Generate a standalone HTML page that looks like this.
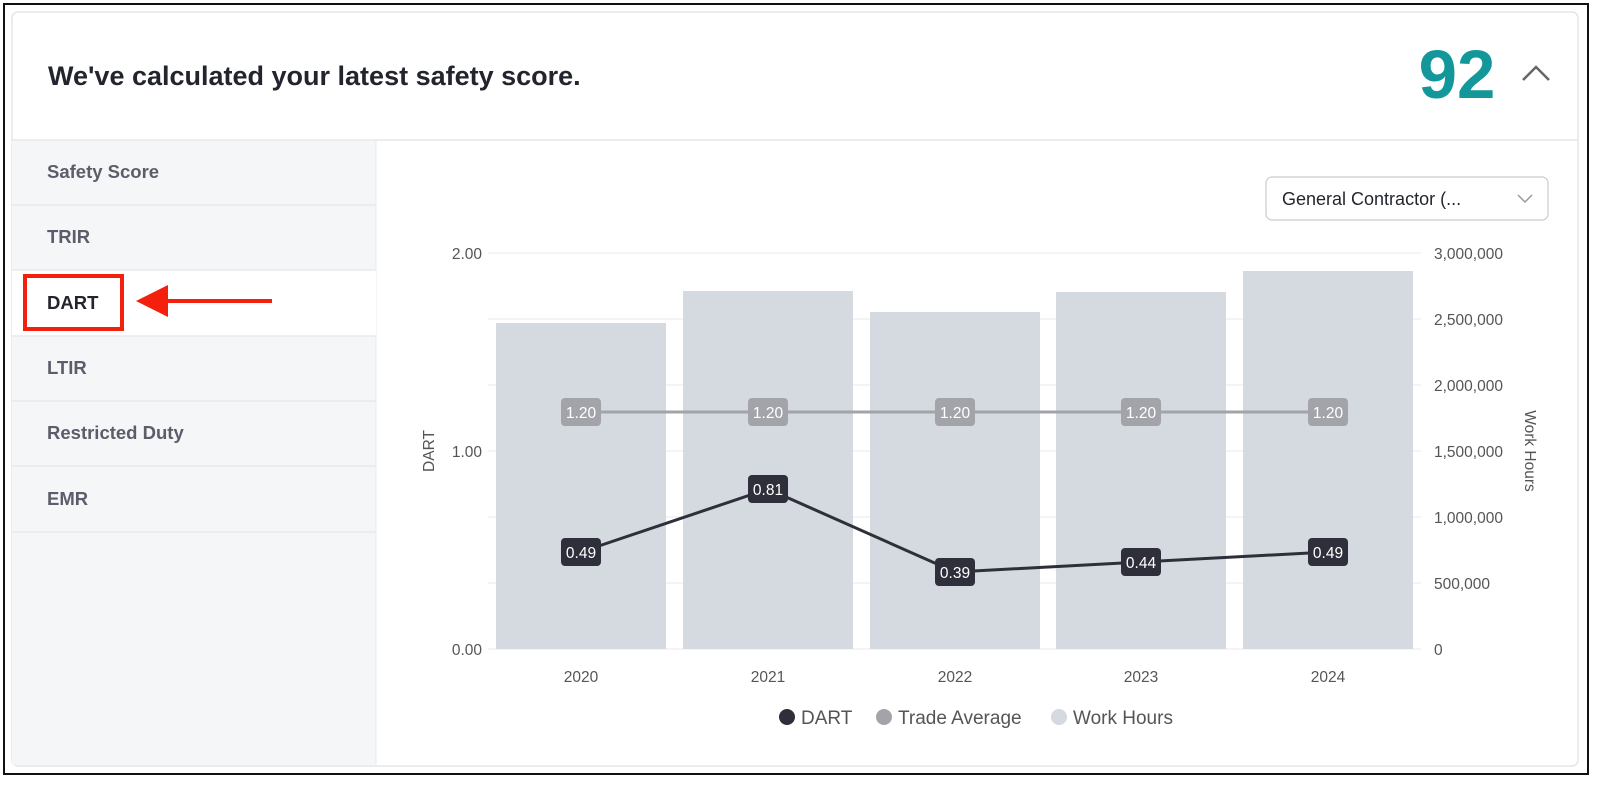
<!DOCTYPE html>
<html><head><style>
body{margin:0;width:1600px;height:782px;background:#fff;overflow:hidden;font-family:"Liberation Sans",Arial,sans-serif}
</style></head><body>
<svg width="1600" height="782" xmlns="http://www.w3.org/2000/svg" font-family="Liberation Sans, Arial, sans-serif">
<rect x="4" y="4" width="1584" height="770" fill="#fff" stroke="#111" stroke-width="2"/>
<rect x="12" y="12" width="1566" height="754" rx="6" fill="#fff" stroke="#e4e5e8" stroke-width="1.5"/>
<text x="48" y="85" font-size="27" font-weight="bold" fill="#23252e">We've calculated your latest safety score.</text>
<text x="1457" y="98" font-size="69" font-weight="bold" fill="#13979a" text-anchor="middle">92</text>
<polyline points="1523,80 1536,67 1549,80" fill="none" stroke="#666" stroke-width="2.5"/>
<line x1="12" y1="140" x2="1578" y2="140" stroke="#e6e7ea" stroke-width="1.5"/>
<!-- sidebar -->
<rect x="12" y="141" width="364" height="624" fill="#f5f6f8"/>
<line x1="376" y1="141" x2="376" y2="765" stroke="#e8e9ec"/>
<rect x="12" y="270" width="364" height="66" fill="#fff"/>
<g stroke="#e4e5e8" stroke-width="1.2">
<line x1="12" y1="205" x2="376" y2="205"/><line x1="12" y1="270" x2="376" y2="270"/>
<line x1="12" y1="336" x2="376" y2="336"/><line x1="12" y1="401" x2="376" y2="401"/>
<line x1="12" y1="466" x2="376" y2="466"/><line x1="12" y1="532" x2="376" y2="532"/>
</g>
<g font-size="18.5" fill="#5b5e6a" font-weight="bold">
<text x="47" y="178">Safety Score</text>
<text x="47" y="243">TRIR</text>
<text x="47" y="309" fill="#23252e">DART</text>
<text x="47" y="374">LTIR</text>
<text x="47" y="439">Restricted Duty</text>
<text x="47" y="505">EMR</text>
</g>
<rect x="25" y="276" width="97" height="53" fill="none" stroke="#f2200c" stroke-width="4"/>
<line x1="165" y1="301" x2="272" y2="301" stroke="#f2200c" stroke-width="4"/>
<polygon points="136,301 168,285 168,317" fill="#f2200c"/>
<!-- dropdown -->
<rect x="1266" y="177" width="282" height="43" rx="6" fill="#fff" stroke="#c9cbd0" stroke-width="1.2"/>
<text x="1282" y="205" font-size="18" fill="#23252e">General Contractor (...</text>
<polyline points="1518,195 1525,202 1532,195" fill="none" stroke="#999" stroke-width="1.5"/>
<!-- grid -->
<g stroke="#e8e9ec" stroke-width="1">
<line x1="488" y1="253" x2="1421" y2="253"/><line x1="488" y1="319" x2="1421" y2="319"/>
<line x1="488" y1="385" x2="1421" y2="385"/><line x1="488" y1="451" x2="1421" y2="451"/>
<line x1="488" y1="517" x2="1421" y2="517"/><line x1="488" y1="583" x2="1421" y2="583"/>
<line x1="488" y1="649" x2="1421" y2="649"/>
</g>
<g fill="#d5d9e0">
<rect x="496" y="323" width="170" height="326"/>
<rect x="683" y="291" width="170" height="358"/>
<rect x="870" y="312" width="170" height="337"/>
<rect x="1056" y="292" width="170" height="357"/>
<rect x="1243" y="271" width="170" height="378"/>
</g>
<g font-size="15.5" fill="#555">
<text x="482" y="259" text-anchor="end">2.00</text>
<text x="482" y="457" text-anchor="end">1.00</text>
<text x="482" y="655" text-anchor="end">0.00</text>
<text x="1434" y="259">3,000,000</text><text x="1434" y="325">2,500,000</text>
<text x="1434" y="391">2,000,000</text><text x="1434" y="457">1,500,000</text>
<text x="1434" y="523">1,000,000</text><text x="1434" y="589">500,000</text>
<text x="1434" y="655">0</text>
<text x="581" y="682" text-anchor="middle">2020</text><text x="768" y="682" text-anchor="middle">2021</text>
<text x="955" y="682" text-anchor="middle">2022</text><text x="1141" y="682" text-anchor="middle">2023</text>
<text x="1328" y="682" text-anchor="middle">2024</text>
<text transform="translate(434,451) rotate(-90)" text-anchor="middle">DART</text>
<text transform="translate(1525,451) rotate(90)" text-anchor="middle">Work Hours</text>
</g>
<line x1="581" y1="412" x2="1328" y2="412" stroke="#a3a4aa" stroke-width="3"/>
<polyline points="581,552 768,489 955,572 1141,562 1328,552" fill="none" stroke="#2e2f3a" stroke-width="3"/>
<g font-size="15.5" fill="#fff" text-anchor="middle">
<g fill="#a3a4aa"><rect x="561" y="398" width="40" height="28" rx="4"/><rect x="748" y="398" width="40" height="28" rx="4"/><rect x="935" y="398" width="40" height="28" rx="4"/><rect x="1121" y="398" width="40" height="28" rx="4"/><rect x="1308" y="398" width="40" height="28" rx="4"/></g>
<text x="581" y="418">1.20</text><text x="768" y="418">1.20</text><text x="955" y="418">1.20</text><text x="1141" y="418">1.20</text><text x="1328" y="418">1.20</text>
<g fill="#2e2f3a"><rect x="561" y="538" width="40" height="28" rx="4"/><rect x="748" y="475" width="40" height="28" rx="4"/><rect x="935" y="558" width="40" height="28" rx="4"/><rect x="1121" y="548" width="40" height="28" rx="4"/><rect x="1308" y="538" width="40" height="28" rx="4"/></g>
<text x="581" y="558">0.49</text><text x="768" y="495">0.81</text><text x="955" y="578">0.39</text><text x="1141" y="568">0.44</text><text x="1328" y="558">0.49</text>
</g>
<g font-size="19" fill="#555">
<circle cx="787" cy="717" r="8" fill="#2e2f3a"/><text x="801" y="724">DART</text>
<circle cx="884" cy="717" r="8" fill="#a3a4aa"/><text x="898" y="724">Trade Average</text>
<circle cx="1059" cy="717" r="8" fill="#d5d9e0"/><text x="1073" y="724">Work Hours</text>
</g>
</svg>
</body></html>
